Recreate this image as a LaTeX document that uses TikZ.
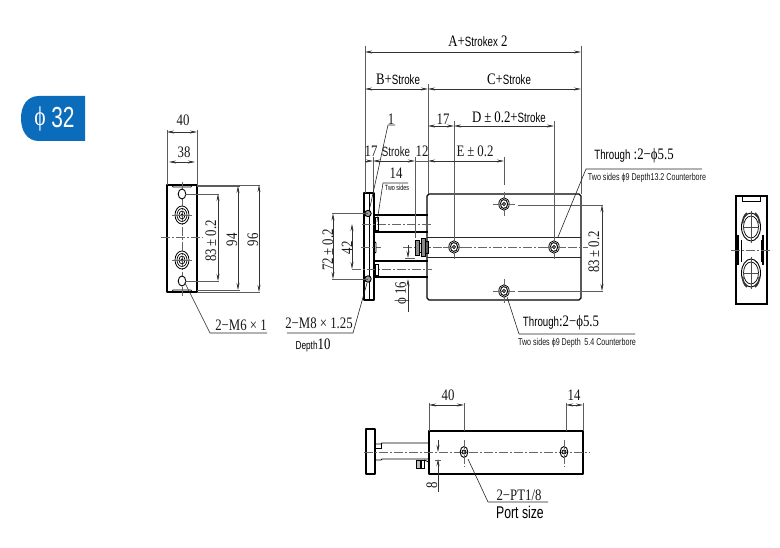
\documentclass[tikz,border=0pt]{standalone}
\usepackage{fontspec}
\setmainfont{Liberation Serif}
\newfontfamily\nsr[FakeStretch=0.8]{Liberation Serif}
\newfontfamily\nsa[FakeStretch=0.72]{Liberation Sans}
\usetikzlibrary{arrows.meta}
\definecolor{badge}{HTML}{0B6CBB}
\definecolor{ln}{HTML}{333333}
\tikzset{
  x=1pt,y=-1pt,
  dimline/.style={draw=ln,line width=.6pt,{Stealth[length=7pt,width=3pt]}-{Stealth[length=7pt,width=3pt]}},
  oneway/.style={draw=ln,line width=.6pt,-{Stealth[length=7pt,width=3pt]}},
  extline/.style={draw=ln!80,line width=.55pt},
  leader/.style={draw=black!85,line width=.6pt},
  outline/.style={draw=black,line width=1.2pt,line join=round},
  midline/.style={draw=black!85,line width=.9pt},
  centerline/.style={draw=black!60,line width=.5pt,dash pattern=on 9pt off 2pt on 2pt off 2pt},
  serif/.style={inner sep=0pt,font=\nsr\fontsize{16}{16}\selectfont,text=black!90},
  sansmid/.style={inner sep=0pt,font=\nsa\fontsize{13.5}{14}\selectfont,text=black!90},
  sanssmall/.style={inner sep=0pt,font=\nsa\fontsize{9.9}{10}\selectfont,text=black!90},
}
\begin{document}
\begin{tikzpicture}
\useasboundingbox (0,0) rectangle (780,548);
\fill[white] (0,0) rectangle (780,548);
\def\sa{\nsa\fontsize{13.5}{14}\selectfont}
\def\sr{\nsr\fontsize{16}{16}\selectfont}
\def\gap{\hspace{3pt}}
\def\boreholeat#1#2{%
  \draw[black,line width=.8pt,fill=white] (#1,#2) ellipse [x radius=5.2pt,y radius=6.2pt];
  \draw[black,line width=.9pt] (#1,#2) ellipse [x radius=3.6pt,y radius=4.6pt];
  \draw[black,line width=.7pt,fill=black!25] (#1,#2) circle [radius=1.7pt];
  \draw[centerline] (#1-11,#2) -- (#1+11,#2);
  \draw[centerline] (#1,#2-12) -- (#1,#2+12);
}

% badge
\fill[badge] (85,96) -- (39,96) .. controls (27,96) and (21,106) .. (21,118) .. controls (21,131) and (27,141) .. (39,141) -- (85,141) -- cycle;
\node[inner sep=0pt,text=white,font=\nsr\fontsize{27}{27}\selectfont] (badgephi) at (40,119) {ϕ};
\node[inner sep=0pt,text=white,font=\nsa\fontsize{29}{29}\selectfont] (badgenum) at (63,118) {32};

% ---------- left end view
\draw[outline,line width=1.4pt] (167,185) rectangle (197,292);
\draw[line width=.7pt] (172,185) -- (173,187) -- (191,187) -- (192,185);
\draw[line width=.7pt] (172,292) -- (173,290) -- (191,290) -- (192,292);
\draw[centerline] (161,237) -- (203,237);
\draw[centerline] (182,182) -- (182,296);
\foreach \yy in {194,281}{
  \draw[black,line width=.9pt,fill=white] (182,\yy) ellipse [x radius=3.8pt,y radius=5pt];
}
\foreach \yy in {215,260}{
  \draw[black,line width=.8pt] (182,\yy) ellipse [x radius=7pt,y radius=9pt];
  \draw[black,line width=.7pt] (182,\yy) ellipse [x radius=5pt,y radius=6.5pt];
  \draw[black,line width=.7pt] (182,\yy) ellipse [x radius=3pt,y radius=4pt];
  \draw[black,line width=.7pt] (182,\yy) circle [radius=1.2pt];
  \draw[centerline,solid] (172,\yy) -- (192,\yy);
}
\draw[extline] (167,130) -- (167,185);
\draw[extline] (197,130) -- (197,185);
\draw[dimline] (167,132) -- (197,132);
\draw[dimline] (169,162) -- (195,162);
\node[serif] (l40) at (183,120) {40};
\node[serif] (l38) at (184,152) {38};
\draw[extline] (197,185) -- (260,185);
\draw[extline] (197,186.5) -- (240,186.5);
\draw[extline] (197,290) -- (240,290);
\draw[extline] (197,292) -- (260,292);
\draw[extline] (185,194) -- (219,194);
\draw[extline] (185,281) -- (219,281);
\draw[dimline] (218,194) -- (218,281);
\draw[dimline] (238,186) -- (238,290);
\draw[dimline] (259,185) -- (259,292);
\node[serif,rotate=90] (l83) at (211,241) {83\gap±\gap0.2};
\node[serif,rotate=90] (l94) at (232,240) {94};
\node[serif,rotate=90] (l96) at (253,240) {96};
\draw[leader] (185,283) -- (210,333) -- (267,333);
\node[serif] (lm6) at (241,325) {2−M6 × 1};

% ---------- main view
\draw[outline] (429,194) -- (579,194) -- (581,196) -- (581,298) -- (579,300) -- (429,300) -- (427,298) -- (427,196) -- cycle;
\draw[midline] (427,237) -- (581,237);
\draw[midline] (427,257) -- (581,257);
\draw[centerline] (403,247) -- (588,247);
\draw[outline] (364,193) rectangle (374,300);
\draw[line width=.5pt] (369,193) -- (369,300);
\draw[centerline] (361,247) -- (381,247);
% rods
\draw[line width=1.1pt] (374,215) -- (428,215);
\draw[line width=1.1pt] (374,232) -- (428,232);
\draw[line width=1.1pt] (374,261) -- (428,261);
\draw[line width=1.1pt] (374,277) -- (428,277);
\draw[line width=.8pt] (374,232) -- (374,241) -- (376,243) -- (376,252) -- (374,254) -- (374,261);
\draw[centerline] (362,224) -- (432,224);
\draw[centerline] (352,269) -- (432,269);
\draw[line width=.9pt] (375,217) rectangle (378,230);
\draw[line width=.9pt] (375,264) rectangle (378,275);
% nut
\draw[line width=.9pt,fill=black!45] (415,240) rectangle (419,255);
\draw[line width=.9pt,fill=black!15] (419,243) rectangle (421,252);
\draw[line width=.9pt,fill=black!45] (421,238) rectangle (425,256);
\draw[line width=.9pt] (425,241) rectangle (428,253);
% flange bolts
\foreach \yy in {213.5,279}{
  \draw[line width=.9pt,fill=black!40] (368,\yy) circle [radius=3.2pt];
}
% holes
\boreholeat{504}{204}
\boreholeat{504}{291}
\boreholeat{454}{247}
\boreholeat{554}{247}
% top dims
\draw[extline] (365,46) -- (365,193);
\draw[extline] (581,46) -- (581,194);
\draw[extline] (428,84) -- (428,194);
\draw[extline] (454,121) -- (454,238);
\draw[extline] (554,121) -- (554,238);
\draw[extline] (373,157) -- (373,193);
\draw[extline] (415,157) -- (415,238);
\draw[extline] (504,157) -- (504,185);
\draw[dimline] (365,52) -- (581,52);
\draw[dimline] (365,89) -- (428,89);
\draw[dimline] (428,89) -- (581,89);
\draw[dimline] (428,126) -- (454,126);
\draw[dimline] (454,126) -- (554,126);
\draw[oneway] (365,161) -- (373,161);
\draw[dimline] (373,161) -- (415,161);
\draw[extline] (415,161) -- (428,161);
\draw[dimline] (428,161) -- (504,161);
\node (tA) at (478,41) [inner sep=0pt] {\sr A+\sa Strokex\sr{} 2};
\node (tB) at (398,79) [inner sep=0pt] {\sr B+\sa Stroke};
\node (tC) at (509,79) [inner sep=0pt] {\sr C+\sa Stroke};
\node[serif] (t17a) at (443,119) {17};
\node (tD) at (509,117) [inner sep=0pt] {\sr D\gap±\gap0.2+\sa Stroke};
\node[serif] (t17b) at (371,151) {17};
\node[sansmid] (tS) at (396,152) {Stroke};
\node[serif] (t12) at (422,151) {12};
\node[serif] (tE) at (475,151) {E\gap±\gap0.2};
\node[serif] (t1) at (391,119) {1};
\draw[leader] (395,125) -- (388,125) -- (370,207);
\node[serif] (t14) at (396,173) {14};
\draw[leader] (408,183) -- (383,183) -- (377,222);
\node[inner sep=0pt,font=\nsa\fontsize{7.5}{8}\selectfont] (t2s) at (397,188) {Two sides};
% left dims
\draw[extline] (332,213.5) -- (368,213.5);
\draw[extline] (332,279) -- (368,279);
\draw[dimline] (333,213.5) -- (333,279);
\draw[dimline] (352,224) -- (352,269);
\node[serif,rotate=90] (t72) at (328,250) {72\gap±\gap0.2};
\node[serif,rotate=90] (t42) at (347,248) {42};
\draw[oneway] (408,245) -- (408,258);
\draw[oneway] (408,312) -- (408,279);
\draw[extline] (405,258) -- (415,258);
\node[serif,rotate=90] (tp16) at (402,293) {ϕ\gap16};
\draw[leader] (367,283) -- (353,333) -- (287,333);
\node[serif] (tm8) at (319,323) {2−M8 × 1.25};
\node (tdep) at (313,345) [inner sep=0pt] {\nsa\fontsize{11.5}{12}\selectfont Depth\sr 10};
% right dim
\draw[extline] (518,205) -- (603,205);
\draw[extline] (518,291) -- (603,291);
\draw[dimline] (602,205) -- (602,291);
\node[serif,rotate=90] (t83) at (594,252) {83\gap±\gap0.2};
% through leaders
\draw[leader] (558,237) -- (586,169) -- (702,169);
\node (tth1) at (634,156) [inner sep=0pt] {\sa Through\sr{} :2−ϕ5.5};
\node[sanssmall] (ts1) at (647,178) {Two sides ϕ9 Depth13.2 Counterbore};
\draw[leader] (507,297) -- (519,334) -- (635,334);
\node (tth2) at (561,323) [inner sep=0pt] {\sa Through\sr :2−ϕ5.5};
\node[sanssmall] (ts2) at (577,343) {Two sides ϕ9 Depth\, 5.4 Counterbore};

% ---------- right end view
\draw[line width=1.1pt] (736,196) rectangle (767,304);
\draw[line width=.9pt] (742,196) -- (742,201) -- (760,201) -- (760,196);
\foreach \yy in {227,273}{
  \draw[line width=.9pt] (751,\yy) ellipse [x radius=9.5pt,y radius=14pt];
  \draw[line width=.7pt] (751,\yy) ellipse [x radius=7.5pt,y radius=11pt];
  \draw[line width=.4pt,black!70] (743,\yy) -- (759,\yy);
  \draw[line width=.4pt,black!70] (751,\yy-16) -- (751,\yy+16);
}
\fill[black!80] (743.5,223) arc[start angle=180,end angle=120,x radius=7.5pt,y radius=11pt] -- ++(-1,-1) arc[start angle=120,end angle=180,x radius=9pt,y radius=13pt] -- cycle;
\fill[black!80] (758.5,223) arc[start angle=0,end angle=60,x radius=7.5pt,y radius=11pt] -- ++(1,-1) arc[start angle=60,end angle=0,x radius=9pt,y radius=13pt] -- cycle;
\fill[black!80] (743.5,277) arc[start angle=180,end angle=240,x radius=7.5pt,y radius=11pt] -- ++(-1,1) arc[start angle=240,end angle=180,x radius=9pt,y radius=13pt] -- cycle;
\fill[black!80] (758.5,277) arc[start angle=0,end angle=-60,x radius=7.5pt,y radius=11pt] -- ++(1,1) arc[start angle=-60,end angle=0,x radius=9pt,y radius=13pt] -- cycle;
\draw[line width=1.6pt] (738,235) -- (738,265);
\draw[line width=1.6pt] (763,235) -- (763,265);
\draw[line width=.5pt] (741,240) -- (741,262);
\draw[line width=.5pt] (761,240) -- (761,262);
\draw[centerline] (731,250) -- (772,250);

% ---------- bottom view
\draw[outline] (429,431) rectangle (583,474);
\draw[outline,line width=1.1pt] (366,429) rectangle (375,474);
\draw[line width=.9pt] (375,444) -- (381,444) -- (382,443) -- (429,443);
\draw[line width=.9pt] (375,460) -- (381,460) -- (382,459) -- (429,459);
\draw[line width=.5pt] (375,448) -- (381,448) -- (381,444);
\draw[centerline] (364,452) -- (590,452);
\draw[line width=.9pt,fill=black!25] (416,460) rectangle (420,468);
\draw[line width=.9pt] (421,460) rectangle (424,468);
\draw[line width=.9pt] (424,460) -- (429,462);
\foreach \xx in {464,564}{
  \draw[line width=.9pt] (\xx,452) ellipse [x radius=3.8pt,y radius=5.5pt];
  \draw[line width=.8pt,fill=black!25] (\xx,452) circle [radius=2pt];
  \draw[centerline] (\xx,440) -- (\xx,467);
}
\draw[extline] (429,403) -- (429,431);
\draw[extline] (464,403) -- (464,431);
\draw[extline] (566,403) -- (566,431);
\draw[extline] (583,403) -- (583,431);
\draw[dimline] (429,405) -- (464,405);
\draw[dimline] (566,405) -- (583,405);
\node[serif] (b40) at (448,395) {40};
\node[serif] (b14) at (574,395) {14};
\draw[oneway] (438,440) -- (438,452);
\draw[oneway] (438,492) -- (438,459);
\draw[extline] (435,460) -- (441,460);
\node[serif,rotate=90] (b8) at (432,485) {8};
\draw[leader] (468,459) -- (488,502) -- (548,502);
\node[serif] (bpt) at (519,495) {2−PT1/8};
\node[inner sep=0pt,font=\nsa\fontsize{17}{18}\selectfont] (bport) at (520,512) {Port size};
\end{tikzpicture}
\end{document}
